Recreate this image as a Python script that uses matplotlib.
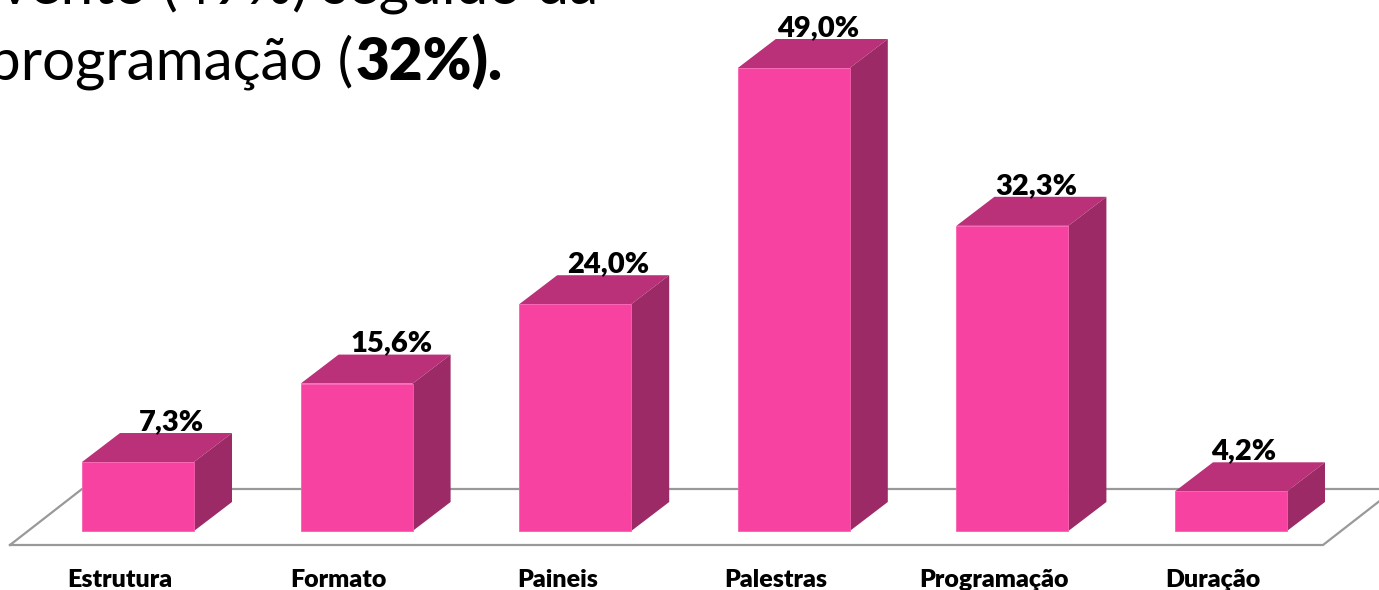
import matplotlib
matplotlib.use("Agg")
import matplotlib.pyplot as plt

# dados
categorias = ["Estrutura", "Formato", "Paineis", "Palestras", "Programação", "Duração"]
valores = [7.3, 15.6, 24.0, 49.0, 32.3, 4.2]
rotulos = ["7,3%", "15,6%", "24,0%", "49,0%", "32,3%", "4,2%"]

# layout
W, H = 1379, 590
PX_X = 218.6      # pixels por categoria
PX_Y = 9.449      # pixels por ponto percentual
X0, Y0 = 138, 531 # pixel do zero
LARG = 112 / PX_X
DX = 38 / PX_X    # profundidade 3D
DY = 29 / PX_Y
DESLOC_ROTULO = [33, 35, 33, 24, 24, 13]  # deslocamento dos rotulos em px

FRENTE = "#F742A1"
TOPO = "#BA3079"
LADO = "#9C2A66"

plt.rcParams["font.family"] = ["Lato", "DejaVu Sans"]

fig = plt.figure(figsize=(W / 100, H / 100), dpi=100)
ax = fig.add_axes([0, 0, 1, 1])
ax.set_xlim(-X0 / PX_X, (W - X0) / PX_X)
ax.set_ylim(-(H - Y0) / PX_Y, Y0 / PX_Y)
ax.axis("off")

# piso
fx = [-128 / PX_X, -56 / PX_X, 1257 / PX_X, 1185 / PX_X, -128 / PX_X]
fy = [-14 / PX_Y, 42 / PX_Y, 42 / PX_Y, -14 / PX_Y, -14 / PX_Y]
ax.plot(fx, fy, color="#999999", linewidth=1.6, zorder=1, solid_joinstyle="miter")

# barras
xs = list(range(len(valores)))
ax.bar(xs, valores, width=LARG, color=FRENTE, edgecolor="#F860B0", linewidth=0.6, zorder=3)
for x, v in zip(xs, valores):
    d = x + LARG / 2
    e = x - LARG / 2
    ax.fill([e, d, d + DX, e + DX], [v, v, v + DY, v + DY], color=TOPO, lw=0, zorder=2)
    ax.fill([d, d + DX, d + DX, d], [0, DY, v + DY, v], color=LADO, lw=0, zorder=2)

# rotulos de valor
for x, v, r, o in zip(xs, valores, rotulos, DESLOC_ROTULO):
    ax.text(x + o / PX_X, v + DY + 3 / PX_Y, r, ha="center", va="baseline",
            fontsize=21, fontweight=800, color="black", zorder=4)

# categorias
for x, c in zip(xs, categorias):
    ax.text(x - 18 / PX_X, -56 / PX_Y, c, ha="center", va="baseline",
            fontsize=18, fontweight=800, color="black", zorder=4)

# texto do slide, cortado pela borda
t1 = ax.text(598 / W, 1 - 4 / H, "evento (49%) seguido da", transform=ax.transAxes,
             ha="right", va="baseline", fontsize=42, color="black")
t2 = ax.text(-12 / W, 1 - 80 / H, "programação (", transform=ax.transAxes,
             ha="left", va="baseline", fontsize=42, color="black")
fim = t2.get_window_extent(fig.canvas.get_renderer()).x1
ax.text(fim / W + 2 / W, 1 - 80 / H, "32%).", transform=ax.transAxes,
        ha="left", va="baseline", fontsize=42, fontweight=800, color="black")

fig.savefig("out.png", dpi=100)
